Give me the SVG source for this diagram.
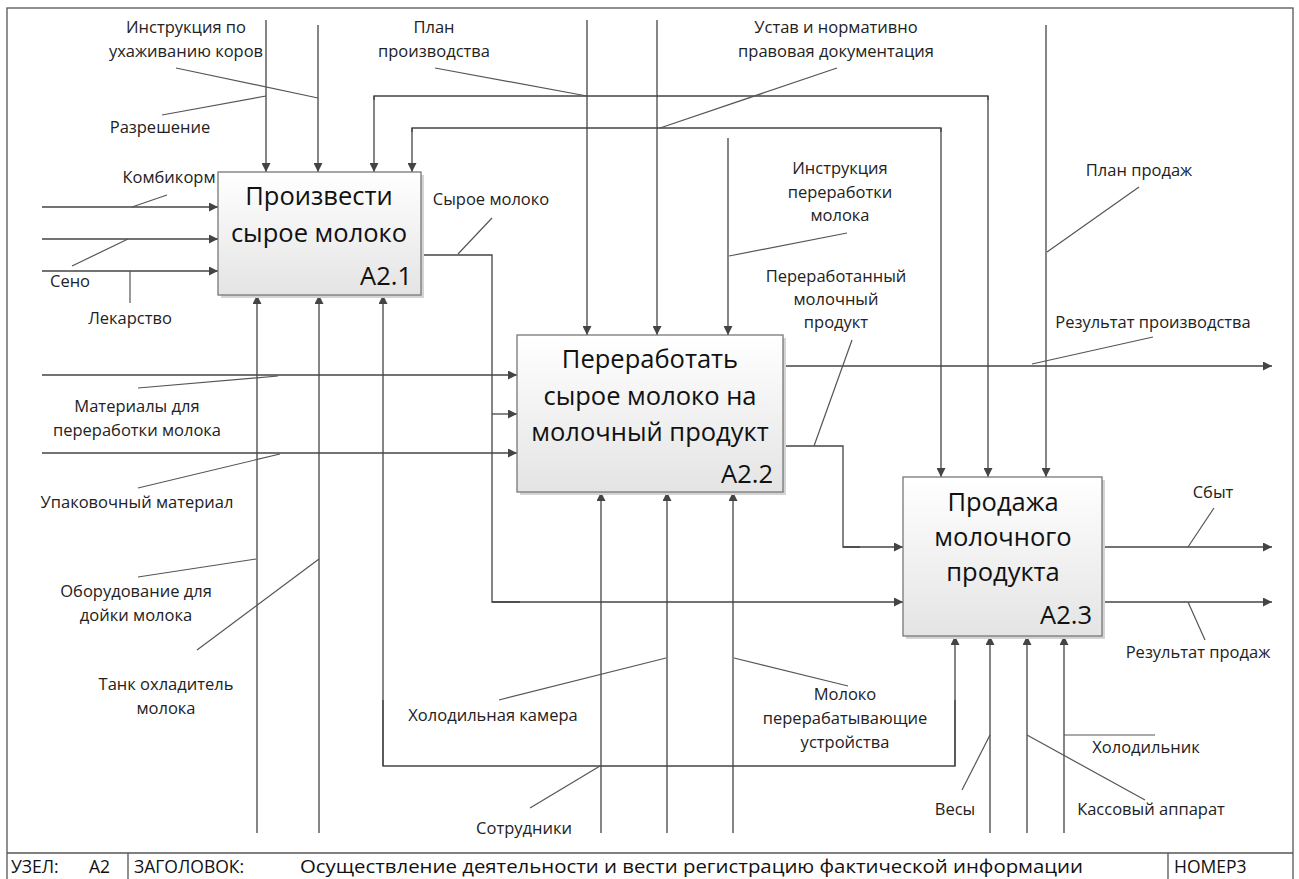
<svg xmlns="http://www.w3.org/2000/svg" width="1299" height="879" viewBox="0 0 1299 879">
  <defs>
    <linearGradient id="boxFill" x1="0" y1="0" x2="0" y2="1">
      <stop offset="0" stop-color="#ffffff"/>
      <stop offset="1" stop-color="#e4e4e4"/>
    </linearGradient>
    <marker id="arr" viewBox="0 0 10 10" refX="10" refY="5" markerWidth="10" markerHeight="9" markerUnits="userSpaceOnUse" orient="auto">
      <path d="M0,0 L10,5 L0,10 z" fill="#444"/>
    </marker>
  </defs>
  <style>
    .ln { fill: none; stroke: #444; stroke-width: 1.3; }
    .ar { fill: none; stroke: #444; stroke-width: 1.3; marker-end: url(#arr); }
    .ld { fill: none; stroke: #555; stroke-width: 1.2; }
    .box { fill: url(#boxFill); stroke: #777; stroke-width: 1.3; }
    .shd { fill: #d4d4d4; }
    .t { font-family: "Open Sans", "Liberation Sans", sans-serif; font-size: 16.5px; fill: #222; text-anchor: middle; }
    .bt { font-family: "Open Sans", "Liberation Sans", sans-serif; font-size: 25.5px; fill: #111; text-anchor: middle; }
    .bn { font-family: "Open Sans", "Liberation Sans", sans-serif; font-size: 25.5px; fill: #111; text-anchor: end; }
    .ft { font-family: "Open Sans", "Liberation Sans", sans-serif; font-size: 17.5px; fill: #111; }
  </style>

  <rect width="1299" height="879" fill="#ffffff"/>
  <!-- page frame and footer -->
  <rect x="7" y="8" width="1286" height="880" fill="none" stroke="#555" stroke-width="1.3"/>
  <line x1="7" y1="853" x2="1293" y2="853" stroke="#555" stroke-width="1.3"/>
  <line x1="128" y1="853" x2="128" y2="879" stroke="#555" stroke-width="1.3"/>
  <line x1="1168" y1="853" x2="1168" y2="879" stroke="#555" stroke-width="1.3"/>
  <text class="ft" x="11" y="873">УЗЕЛ:</text>
  <text class="ft" x="89" y="873">A2</text>
  <text class="ft" x="134" y="873">ЗАГОЛОВОК:</text>
  <text class="ft" x="300" y="873" textLength="783" lengthAdjust="spacingAndGlyphs">Осуществление деятельности и вести регистрацию фактической информации</text>
  <text class="ft" x="1174" y="873">НОМЕР3</text>

  <g id="connectors">
    <!-- controls of A2.1 -->
    <line class="ar" x1="266" y1="20" x2="266" y2="172"/>
    <line class="ar" x1="318" y1="25" x2="318" y2="172"/>
    <polyline class="ln" points="988,100 988,96 374,96 374,100"/>
    <line class="ar" x1="374" y1="96" x2="374" y2="172"/>
    <line class="ar" x1="988" y1="96" x2="988" y2="477"/>
    <polyline class="ln" points="941,132 941,128 412,128 412,132"/>
    <line class="ar" x1="412" y1="128" x2="412" y2="172"/>
    <line class="ar" x1="941" y1="128" x2="941" y2="477"/>
    <!-- inputs of A2.1 -->
    <line class="ar" x1="42" y1="207" x2="218" y2="207"/>
    <line class="ar" x1="42" y1="239" x2="218" y2="239"/>
    <line class="ar" x1="42" y1="271" x2="218" y2="271"/>
    <!-- mechanisms of A2.1 -->
    <line class="ar" x1="257" y1="833" x2="257" y2="295"/>
    <line class="ar" x1="319" y1="833" x2="319" y2="295"/>
    <polyline class="ln" points="383,700 383,766 955,766 955,700"/>
    <line class="ar" x1="383" y1="766" x2="383" y2="295"/>
    <line class="ar" x1="955" y1="766" x2="955" y2="636"/>
    <!-- raw milk output -->
    <polyline class="ln" points="421,255 492,255 492,602 520,602"/>
    <line class="ar" x1="492" y1="602" x2="903" y2="602"/>
    <line class="ar" x1="492" y1="414" x2="517" y2="414"/>
    <!-- inputs of A2.2 -->
    <line class="ar" x1="42" y1="375" x2="517" y2="375"/>
    <line class="ar" x1="42" y1="453" x2="517" y2="453"/>
    <!-- controls of A2.2 -->
    <line class="ar" x1="587" y1="20" x2="587" y2="335"/>
    <line class="ar" x1="657" y1="20" x2="657" y2="335"/>
    <line class="ar" x1="728" y1="138" x2="728" y2="335"/>
    <!-- mechanisms of A2.2 -->
    <line class="ar" x1="601" y1="833" x2="601" y2="492"/>
    <line class="ar" x1="667" y1="833" x2="667" y2="492"/>
    <line class="ar" x1="733" y1="833" x2="733" y2="492"/>
    <!-- outputs of A2.2 -->
    <line class="ar" x1="783" y1="366" x2="1272" y2="366"/>
    <polyline class="ln" points="783,446 843,446 843,547 860,547"/>
    <line class="ar" x1="843" y1="547" x2="903" y2="547"/>
    <!-- A2.3 control, outputs, mechanisms -->
    <line class="ar" x1="1046" y1="25" x2="1046" y2="477"/>
    <line class="ar" x1="1102" y1="547" x2="1272" y2="547"/>
    <line class="ar" x1="1102" y1="602" x2="1272" y2="602"/>
    <line class="ar" x1="990" y1="833" x2="990" y2="636"/>
    <line class="ar" x1="1027" y1="833" x2="1027" y2="636"/>
    <line class="ar" x1="1064" y1="833" x2="1064" y2="636"/>

    <!-- label leaders -->
    <line class="ld" x1="176" y1="68" x2="318" y2="98"/>
    <line class="ld" x1="162" y1="115" x2="266" y2="96"/>
    <line class="ld" x1="132" y1="207" x2="167" y2="195"/>
    <line class="ld" x1="72" y1="266" x2="128" y2="239"/>
    <line class="ld" x1="130" y1="271" x2="130" y2="303"/>
    <line class="ld" x1="435" y1="68" x2="587" y2="96"/>
    <line class="ld" x1="837" y1="68" x2="660" y2="128"/>
    <line class="ld" x1="458" y1="254" x2="492" y2="218"/>
    <line class="ld" x1="729" y1="256" x2="847" y2="233"/>
    <line class="ld" x1="814" y1="446" x2="852" y2="340"/>
    <line class="ld" x1="1047" y1="252" x2="1139" y2="187"/>
    <line class="ld" x1="1032" y1="364" x2="1153" y2="337"/>
    <line class="ld" x1="138" y1="388" x2="278" y2="376"/>
    <line class="ld" x1="138" y1="488" x2="280" y2="454"/>
    <line class="ld" x1="138" y1="577" x2="256" y2="559"/>
    <line class="ld" x1="319" y1="559" x2="197" y2="650"/>
    <line class="ld" x1="499" y1="700" x2="666" y2="658"/>
    <line class="ld" x1="734" y1="658" x2="848" y2="686"/>
    <line class="ld" x1="530" y1="808" x2="600" y2="766"/>
    <line class="ld" x1="1188" y1="547" x2="1214" y2="508"/>
    <line class="ld" x1="1188" y1="602" x2="1205" y2="640"/>
    <line class="ld" x1="990" y1="735" x2="962" y2="790"/>
    <line class="ld" x1="1027" y1="735" x2="1145" y2="800"/>
    <line class="ld" x1="1064" y1="735" x2="1155" y2="735"/>
  </g>

  <!-- arrow labels -->
  <g id="labels">
    <text class="t" x="186" y="33">Инструкция по</text>
    <text class="t" x="186" y="57">ухаживанию коров</text>
    <text class="t" x="160" y="133">Разрешение</text>
    <text class="t" x="169" y="183">Комбикорм</text>
    <text class="t" x="70" y="287">Сено</text>
    <text class="t" x="130" y="324">Лекарство</text>
    <text class="t" x="434" y="33">План</text>
    <text class="t" x="434" y="57">производства</text>
    <text class="t" x="836" y="33">Устав и нормативно</text>
    <text class="t" x="836" y="57">правовая документация</text>
    <text class="t" x="491" y="205">Сырое молоко</text>
    <text class="t" x="840" y="174">Инструкция</text>
    <text class="t" x="840" y="198">переработки</text>
    <text class="t" x="840" y="221">молока</text>
    <text class="t" x="836" y="282">Переработанный</text>
    <text class="t" x="836" y="305">молочный</text>
    <text class="t" x="836" y="328">продукт</text>
    <text class="t" x="1139" y="176">План продаж</text>
    <text class="t" x="1153" y="328">Результат производства</text>
    <text class="t" x="137" y="412">Материалы для</text>
    <text class="t" x="137" y="436">переработки молока</text>
    <text class="t" x="137" y="508">Упаковочный материал</text>
    <text class="t" x="136" y="597">Оборудование для</text>
    <text class="t" x="136" y="621">дойки молока</text>
    <text class="t" x="166" y="690">Танк охладитель</text>
    <text class="t" x="166" y="714">молока</text>
    <text class="t" x="493" y="721">Холодильная камера</text>
    <text class="t" x="845" y="700">Молоко</text>
    <text class="t" x="845" y="724">перерабатывающие</text>
    <text class="t" x="845" y="748">устройства</text>
    <text class="t" x="524" y="834">Сотрудники</text>
    <text class="t" x="1213" y="498">Сбыт</text>
    <text class="t" x="1198" y="658">Результат продаж</text>
    <text class="t" x="1146" y="753">Холодильник</text>
    <text class="t" x="955" y="815">Весы</text>
    <text class="t" x="1151" y="815">Кассовый аппарат</text>
  </g>

  <g id="A2.1">
    <rect class="shd" x="221" y="175" width="203" height="123"/>
    <rect class="box" x="218" y="172" width="203" height="123"/>
    <text class="bt" x="319" y="205">Произвести</text>
    <text class="bt" x="319" y="242">сырое молоко</text>
    <text class="bn" x="412" y="285">A2.1</text>
  </g>
  <g id="A2.2">
    <rect class="shd" x="520" y="338" width="266" height="157"/>
    <rect class="box" x="517" y="335" width="266" height="157"/>
    <text class="bt" x="650" y="368">Переработать</text>
    <text class="bt" x="650" y="405">сырое молоко на</text>
    <text class="bt" x="650" y="441">молочный продукт</text>
    <text class="bn" x="773" y="483">A2.2</text>
  </g>
  <g id="A2.3">
    <rect class="shd" x="906" y="480" width="199" height="159"/>
    <rect class="box" x="903" y="477" width="199" height="159"/>
    <text class="bt" x="1003" y="511">Продажа</text>
    <text class="bt" x="1003" y="546">молочного</text>
    <text class="bt" x="1003" y="581">продукта</text>
    <text class="bn" x="1092" y="624">A2.3</text>
  </g>
</svg>
